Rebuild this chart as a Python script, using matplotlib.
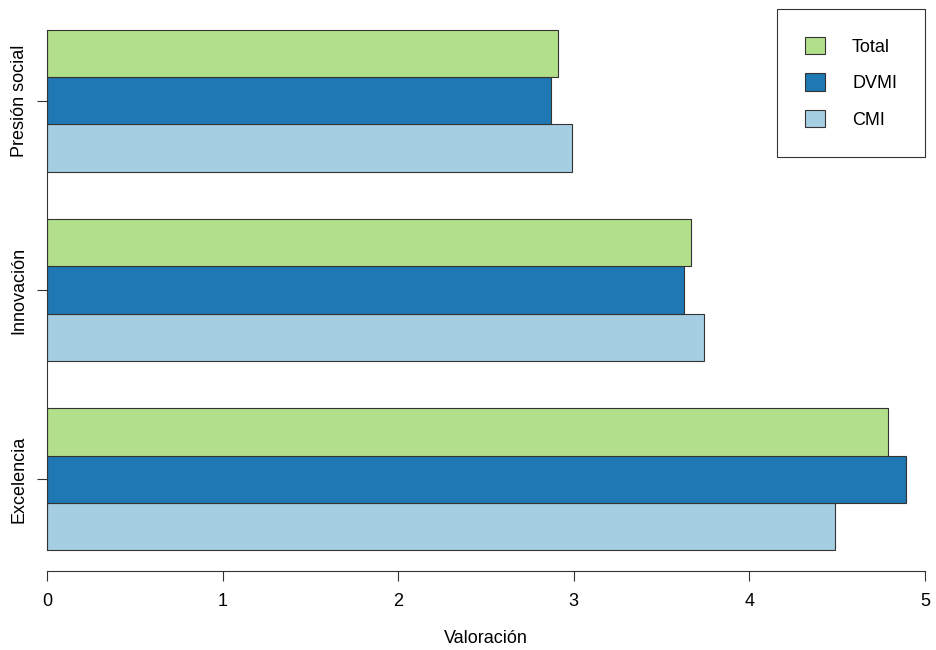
import numpy as np
import matplotlib
matplotlib.use("Agg")
import matplotlib.pyplot as plt

plt.rcParams['font.family'] = ['Liberation Sans', 'DejaVu Sans']

# datos (de abajo hacia arriba)
categorias = ['Excelencia', 'Innovación', 'Presión social']
series = ['CMI', 'DVMI', 'Total']
cmi = [4.49, 3.74, 2.99]
dvmi = [4.89, 3.63, 2.87]
total = [4.79, 3.67, 2.91]
colores = {'Total': '#B2DF8A', 'DVMI': '#1F78B4', 'CMI': '#A6CEE3'}
valores = {'CMI': cmi, 'DVMI': dvmi, 'Total': total}

fig = plt.figure(figsize=(9.36, 6.5), dpi=100)
ax = fig.add_axes([47 / 936, 1 - 571 / 650, (925 - 47) / 936, (571 - 9) / 650])

# posiciones estilo barplot de R: 3 barras por grupo + 1 de espacio
barras = {}
for g, cat in enumerate(categorias):
    for j, s in enumerate(series):
        y = 1 + g * 4 + j + 0.5
        barras[s] = ax.barh(y, valores[s][g], height=1, color=colores[s],
                            edgecolor='#333333', linewidth=0.8)

ax.set_xlim(0, 5)
ax.set_ylim(0.56, 12.44)

centros = [1 + g * 4 + 1.5 for g in range(len(categorias))]
ax.set_yticks(centros)
ax.set_yticklabels(categorias, rotation=90, va='center', fontsize=13)
ax.set_xticks(range(6))
ax.set_xticklabels([str(i) for i in range(6)], fontsize=13)

for s in ['top', 'right']:
    ax.spines[s].set_visible(False)
ax.spines['left'].set_bounds(1, 12)
ax.spines['left'].set_color('#333333')
ax.spines['bottom'].set_color('#333333')
ax.tick_params(axis='x', length=7, width=0.8, color='#333333', pad=9)
ax.tick_params(axis='y', length=7, width=0.8, color='#333333', pad=7)

ax.set_xlabel('Valoración', fontsize=13, labelpad=14)

handles = [barras['Total'], barras['DVMI'], barras['CMI']]
leg = ax.legend(handles, ['Total', 'DVMI', 'CMI'], loc='upper right',
                bbox_to_anchor=(1.0, 1.0), borderaxespad=0, fancybox=False,
                edgecolor='#333333', fontsize=13, borderpad=1.55,
                labelspacing=0.98, handlelength=1.1, handleheight=1.1,
                handletextpad=1.5, framealpha=1)
leg.get_frame().set_linewidth(0.8)

fig.savefig('out.png', dpi=100)
